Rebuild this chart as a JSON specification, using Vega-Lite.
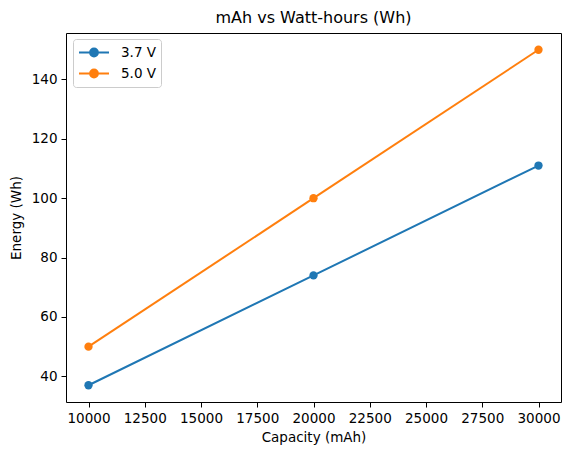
{
  "$schema": "https://vega.github.io/schema/vega-lite/v6.json",
  "width": 495,
  "height": 369,
  "autosize": {"type": "none"},
  "padding": {"left": 66, "top": 33, "right": 10, "bottom": 53},
  "title": {
    "text": "mAh vs Watt-hours (Wh)",
    "font": "DejaVu Sans",
    "fontSize": 16,
    "fontWeight": "normal",
    "color": "black",
    "anchor": "middle",
    "offset": 7
  },
  "config": {
    "view": {"stroke": "black", "strokeWidth": 1},
    "axis": {
      "domain": false,
      "grid": false,
      "tickColor": "black",
      "tickSize": 5,
      "tickWidth": 1,
      "labelFont": "DejaVu Sans",
      "labelFontSize": 13.5,
      "labelColor": "black",
      "labelPadding": 4,
      "titleFont": "DejaVu Sans",
      "titleFontSize": 13.5,
      "titleFontWeight": "normal",
      "titleColor": "black"
    }
  },
  "data": {
    "values": [
      {"capacity": 10000, "energy": 37, "series": "3.7 V"},
      {"capacity": 20000, "energy": 74, "series": "3.7 V"},
      {"capacity": 30000, "energy": 111, "series": "3.7 V"},
      {"capacity": 10000, "energy": 50, "series": "5.0 V"},
      {"capacity": 20000, "energy": 100, "series": "5.0 V"},
      {"capacity": 30000, "energy": 150, "series": "5.0 V"}
    ]
  },
  "encoding": {
    "x": {
      "field": "capacity",
      "type": "quantitative",
      "title": "Capacity (mAh)",
      "scale": {"domain": [9000, 31000], "nice": false, "zero": false},
      "axis": {"values": [10000, 12500, 15000, 17500, 20000, 22500, 25000, 27500, 30000], "format": "d", "titlePadding": 6, "labelFlush": false, "labelOverlap": false}
    },
    "y": {
      "field": "energy",
      "type": "quantitative",
      "title": "Energy (Wh)",
      "scale": {"domain": [31.35, 155.65], "nice": false, "zero": false},
      "axis": {"values": [40, 60, 80, 100, 120, 140], "titlePadding": 8, "labelFlush": false}
    },
    "color": {
      "field": "series",
      "type": "nominal",
      "title": null,
      "scale": {"domain": ["3.7 V", "5.0 V"], "range": ["#1f77b4", "#ff7f0e"]},
      "legend": {
        "orient": "none",
        "legendX": 7,
        "legendY": 6,
        "symbolType": "M -1 0 L 3 0 M 0.48 0 A 0.52 0.52 0 1 0 1.52 0 A 0.52 0.52 0 1 0 0.48 0 Z",
        "symbolSize": 225,
        "symbolStrokeWidth": 2,
        "labelFont": "DejaVu Sans",
        "labelFontSize": 13.5,
        "labelColor": "black",
        "labelOffset": 26,
        "rowPadding": 4,
        "padding": 5,
        "strokeColor": "#cccccc",
        "fillColor": "rgba(255,255,255,0.8)",
        "cornerRadius": 3
      }
    }
  },
  "layer": [
    {"mark": {"type": "line", "strokeWidth": 2}},
    {"mark": {"type": "point", "filled": true, "shape": "circle", "size": 69, "opacity": 1}}
  ]
}
